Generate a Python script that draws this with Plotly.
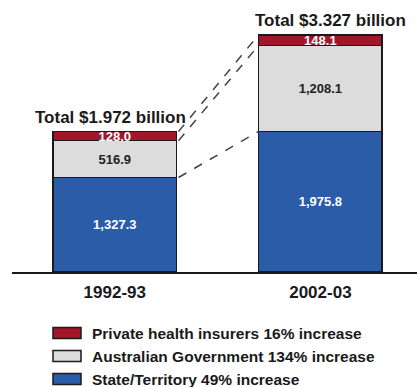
import plotly.graph_objects as go

# Health expenditure by funder, $ million
periods = ["1992-93", "2002-03"]
state_territory = [1327.3, 1975.8]
australian_gov = [516.9, 1208.1]
private_insurers = [128.0, 148.1]
totals_text = ["Total $1.972 billion", "Total $3.327 billion"]

series_names = [
    "State/Territory 49% increase",
    "Australian Government 134% increase",
    "Private health insurers 16% increase",
]
colors = ["#2b5ca8", "#dcdcdc", "#a3162a"]
label_colors = ["white", "#222222", "white"]

W, H = 417, 387
ML, MB = 12, 115
plot_w = W - ML
plot_h = H - MB

xpos = [0, 1]
bar_w = 0.6
y_top = 3820

fig = go.Figure()

stack = [state_territory, australian_gov, private_insurers]
for vals, name, col, lc in zip(stack, series_names, colors, label_colors):
    fig.add_trace(go.Bar(
        x=xpos, y=vals, name=name, width=bar_w,
        marker=dict(color=col, line=dict(color="#1a1a1a", width=1.5)),
        text=[f"{v:,.1f}" for v in vals],
        textposition="inside", insidetextanchor="middle",
        textangle=0, constraintext="none",
        textfont=dict(family="Liberation Sans", size=13, color=lc, weight="bold"),
        showlegend=False,
    ))

# Totals above each bar
sums = [a + b + c for a, b, c in zip(*stack)]
for x, s, t, dx in zip(xpos, sums, totals_text, [-4, 10]):
    fig.add_annotation(
        x=x, y=s, text=t, showarrow=False, xanchor="center", yanchor="bottom",
        xshift=dx, yshift=3,
        font=dict(family="Liberation Sans", size=17, color="#1a1a1a", weight="bold"),
    )

# Dashed connectors between matching segment boundaries
bounds = []
cum = [0, 0]
for vals in stack:
    cum = [c + v for c, v in zip(cum, vals)]
    bounds.append(list(cum))
for b in bounds:
    fig.add_shape(
        type="line", xref="x", yref="y",
        x0=xpos[0] + bar_w / 2 + 0.01, y0=b[0],
        x1=xpos[1] - bar_w / 2, y1=b[1],
        line=dict(color="#444444", width=1.5, dash="dash"),
    )

# Legend drawn as swatches plus labels below the axis
def px_x(p):
    return (p - ML) / plot_w

def px_y(p):
    return (plot_h - p) / plot_h

legend_order = [2, 1, 0]
row_y = [333, 356, 379]
for ry, idx in zip(row_y, legend_order):
    fig.add_shape(
        type="rect", xref="paper", yref="paper",
        x0=px_x(53), x1=px_x(81), y0=px_y(ry + 5.5), y1=px_y(ry - 5.5),
        fillcolor=colors[idx], line=dict(color="#1a1a1a", width=1.5),
    )
    fig.add_annotation(
        xref="paper", yref="paper", x=px_x(90), y=px_y(ry),
        text=series_names[idx], showarrow=False, xanchor="left", yanchor="middle",
        font=dict(family="Liberation Sans", size=15.5, color="#1a1a1a", weight="bold"),
    )

fig.update_layout(
    width=W, height=H,
    margin=dict(l=ML, r=0, t=0, b=MB),
    barmode="stack",
    plot_bgcolor="white", paper_bgcolor="white",
    xaxis=dict(
        range=[-0.5, 1.47], tickvals=xpos, ticktext=periods,
        showline=True, linecolor="#1a1a1a", linewidth=1.5,
        showgrid=False, zeroline=False, ticks="", ticklabelstandoff=4,
        tickfont=dict(family="Liberation Sans", size=17, color="#1a1a1a", weight="bold"),
    ),
    yaxis=dict(range=[0, y_top], visible=False, showgrid=False, zeroline=False),
)

fig.write_html("out.html")
